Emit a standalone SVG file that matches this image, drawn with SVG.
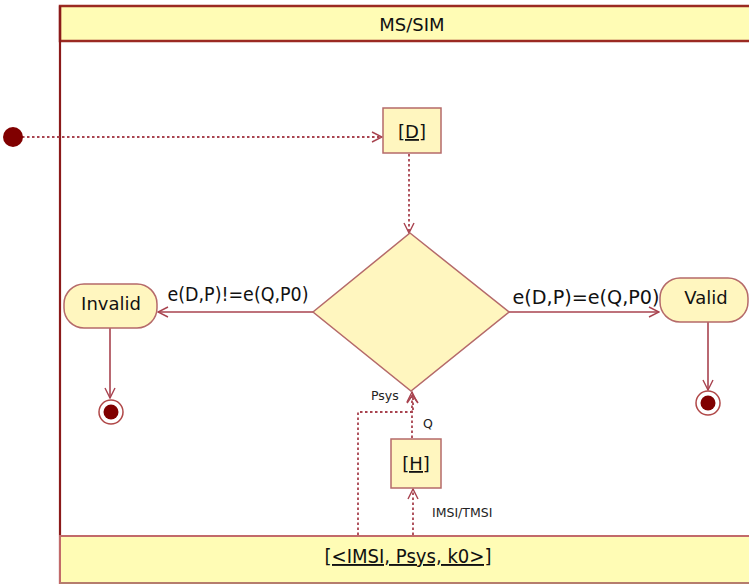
<svg xmlns="http://www.w3.org/2000/svg" width="749" height="584" viewBox="0 0 749 584">
<defs>
<style>
.frame{fill:none;stroke:#8b1a1a;stroke-width:2.2}
.hdr{fill:#fffcb5;stroke:#9b2a22;stroke-width:2.5}
.band{fill:#fffcb5;stroke:#c26a6a;stroke-width:2}
.node{fill:#fff6bf;stroke:#b56a6a;stroke-width:1.5}
.edge{fill:none;stroke:#a8434f;stroke-width:1.6}
.dot{fill:none;stroke:#a8434f;stroke-width:1.8;stroke-dasharray:2.5 2.5}
.t{font-family:"DejaVu Sans",Tahoma,sans-serif;fill:#111}
.lbl{font-family:"DejaVu Sans Condensed","DejaVu Sans",sans-serif;fill:#111}
.small{font-family:"DejaVu Sans",sans-serif;font-size:12.5px;fill:#222}
</style>
<marker id="arr" viewBox="0 0 12 12" refX="11" refY="6" markerWidth="12" markerHeight="12" markerUnits="userSpaceOnUse" orient="auto">
<path d="M1,1 L11,6 L1,11" fill="none" stroke="#a8434f" stroke-width="1.4"/>
</marker>
</defs>
<rect x="0" y="0" width="749" height="584" fill="#ffffff"/>
<g id="frame">
<rect x="60" y="6" width="700" height="35" class="hdr"/>
<line x1="60" y1="6" x2="60" y2="584" class="frame"/>
<rect x="60" y="536" width="700" height="47" class="band"/>
<line x1="60" y1="583" x2="749" y2="583" stroke="#a89070" stroke-width="1.2"/>
<text x="412" y="31" class="t" font-size="18" text-anchor="middle">MS/SIM</text>
<text x="408" y="563" class="t" font-size="19" text-anchor="middle" text-decoration="underline" textLength="167" lengthAdjust="spacingAndGlyphs">[&lt;IMSI, Psys, k0&gt;]</text>
</g>
<g id="connectors">
<line x1="22" y1="137" x2="382" y2="137" class="dot" marker-end="url(#arr)"/>
<line x1="409" y1="154" x2="409" y2="233" class="dot" marker-end="url(#arr)"/>
<line x1="509" y1="312" x2="659" y2="312" class="edge" marker-end="url(#arr)"/>
<text x="586" y="304" class="lbl" font-size="19" text-anchor="middle" textLength="147" lengthAdjust="spacingAndGlyphs">e(D,P)=e(Q,P0)</text>
<line x1="313" y1="312" x2="158" y2="312" class="edge" marker-end="url(#arr)"/>
<text x="238" y="301" class="lbl" font-size="19" text-anchor="middle" textLength="141" lengthAdjust="spacingAndGlyphs">e(D,P)!=e(Q,P0)</text>
<line x1="110" y1="328" x2="110" y2="398" class="edge" marker-end="url(#arr)"/>
<line x1="708" y1="322" x2="708" y2="390" class="edge" marker-end="url(#arr)"/>
<line x1="413" y1="535" x2="413" y2="489" class="dot" marker-end="url(#arr)"/>
<text x="432" y="517" class="small">IMSI/TMSI</text>
<line x1="412" y1="438" x2="412" y2="392" class="dot" marker-end="url(#arr)"/>
<text x="423" y="428" class="small">Q</text>
<polyline points="358,535 358,412 413,412 413,396" class="dot"/>
<path d="M407,403 L412.5,395 L418,403" fill="none" stroke="#a8434f" stroke-width="1.6"/>
<text x="371" y="400" class="small">Psys</text>
</g>
<g id="initial">
<circle cx="13" cy="137" r="10" fill="#800000"/>
</g>
<g id="D">
<rect x="383" y="108" width="58" height="45" class="node"/>
<text x="412" y="138" class="t" font-size="18" text-anchor="middle" text-decoration="underline">[D]</text>
</g>
<g id="decision">
<polygon points="410,233 509,312 411,391 313,312" class="node"/>
</g>
<g id="Valid">
<rect x="660" y="278" width="88" height="44" rx="20" class="node"/>
<text x="706" y="304" class="t" font-size="18" text-anchor="middle">Valid</text>
</g>
<g id="Invalid">
<rect x="64" y="284" width="93" height="44" rx="20" class="node"/>
<text x="111" y="310" class="t" font-size="18" text-anchor="middle">Invalid</text>
</g>
<g id="end1">
<circle cx="111" cy="412" r="12" fill="#fff" stroke="#b04848" stroke-width="1.5"/>
<circle cx="111" cy="412" r="7.5" fill="#800000"/>
</g>
<g id="end2">
<circle cx="708" cy="403" r="12" fill="#fff" stroke="#b04848" stroke-width="1.5"/>
<circle cx="708" cy="403" r="7.5" fill="#800000"/>
</g>
<g id="H">
<rect x="391" y="439" width="50" height="49" class="node"/>
<text x="416" y="470" class="t" font-size="18" text-anchor="middle" text-decoration="underline">[H]</text>
</g>
</svg>
